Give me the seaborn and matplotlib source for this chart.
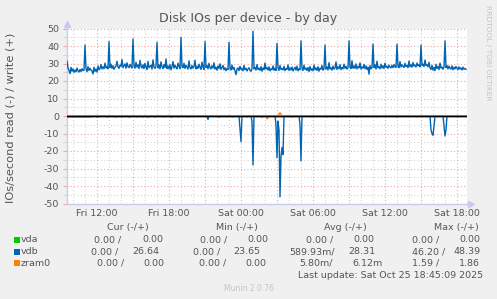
import numpy as np
import pandas as pd
import matplotlib
matplotlib.use("Agg")
import matplotlib.pyplot as plt
import matplotlib.dates as mdates
from matplotlib.ticker import FuncFormatter, MultipleLocator
from matplotlib.patches import Rectangle
import seaborn as sns

# ---------------- data ----------------
start_time = "2025-10-24 09:30"
step = "5min"
n_samples = 400

vdb_write = [
    31.4, 27.5, 26.0, 24.2, 27.8, 25.6, 26.9, 25.0, 26.3, 25.2, 27.4, 25.8, 25.1, 26.6, 25.4, 27.0, 25.9, 26.2, 40.6, 27.1, 25.3, 28.2, 26.0, 27.3,
    26.2, 25.8, 24.0, 27.9, 25.5, 26.8, 25.1, 28.6, 26.4, 27.2, 29.4, 26.9, 28.1, 27.0, 30.2, 27.4, 28.3, 26.9, 42.5, 27.7, 29.6, 27.2, 28.8, 26.7,
    27.9, 28.5, 31.3, 28.0, 27.2, 29.1, 28.4, 32.3, 27.6, 28.7, 29.8, 27.3, 30.4, 28.1, 27.6, 29.5, 28.2, 27.4, 44.0, 28.6, 27.3, 30.7, 27.9, 29.2,
    27.1, 31.8, 28.3, 27.4, 29.3, 27.0, 30.1, 28.0, 26.6, 31.2, 27.6, 28.3, 29.0, 26.8, 32.1, 27.9, 27.2, 28.7, 42.1, 27.4, 29.2, 26.9, 31.0, 28.1,
    27.0, 29.4, 27.8, 32.6, 27.1, 28.6, 26.9, 29.3, 26.4, 28.2, 31.1, 27.3, 29.0, 27.8, 26.9, 30.2, 28.4, 27.1, 45.0, 28.2, 27.6, 30.1, 27.2, 29.0,
    27.9, 26.8, 31.5, 27.6, 26.9, 28.8, 27.3, 28.1, 31.9, 26.9, 28.4, 27.1, 29.6, 27.8, 26.7, 30.8, 27.9, 26.6, 42.5, 27.8, 28.9, 26.9, 30.1, 27.6,
    26.9, 28.7, 27.4, 30.4, 26.8, 27.9, 26.2, 28.6, 27.1, 29.8, 26.6, 27.7, 28.9, 26.4, 27.6, 25.9, 27.2, 26.5, 42.1, 27.0, 26.3, 29.1, 26.7, 27.8,
    25.6, 23.65, 26.8, 27.5, 25.9, 28.4, 26.6, 27.1, 25.8, 28.9, 26.4, 27.3, 25.7, 26.9, 27.6, 26.1, 25.5, 27.2, 48.39, 26.9, 27.8, 26.2, 29.4, 26.6,
    27.3, 26.1, 28.2, 25.6, 27.4, 26.5, 30.3, 26.9, 27.7, 26.2, 28.1, 25.8, 27.0, 26.4, 28.6, 26.1, 27.3, 26.0, 41.5, 27.4, 26.1, 28.9, 26.5, 27.2,
    26.3, 28.4, 25.9, 27.1, 26.6, 29.2, 26.0, 27.5, 26.3, 28.0, 25.7, 26.8, 27.9, 26.2, 28.5, 25.8, 27.0, 26.4, 42.9, 27.3, 26.0, 29.0, 26.6, 27.4,
    26.0, 27.7, 25.4, 28.3, 26.1, 27.0, 25.8, 29.1, 26.4, 27.5, 26.0, 28.2, 25.6, 27.3, 26.7, 28.8, 26.2, 26.9, 40.6, 26.8, 28.0, 26.3, 30.5, 26.9,
    27.6, 26.2, 28.5, 26.8, 27.4, 30.9, 26.7, 28.1, 27.0, 29.3, 26.5, 27.8, 26.9, 29.6, 27.2, 28.4, 26.8, 27.5, 42.9, 28.0, 27.1, 31.6, 27.3, 28.6,
    27.2, 29.8, 26.9, 28.3, 27.5, 30.4, 26.8, 28.1, 27.3, 29.5, 27.0, 28.6, 26.6, 27.9, 23.9, 28.8, 26.9, 27.6, 41.1, 27.7, 29.2, 26.8, 31.3, 27.5,
    28.1, 27.0, 29.6, 27.4, 28.7, 27.1, 30.2, 27.8, 28.4, 27.2, 29.1, 28.0, 27.5, 28.9, 27.6, 29.4, 28.2, 27.7, 41.1, 28.3, 27.6, 31.1, 28.0, 29.3,
    28.4, 27.7, 30.1, 28.2, 29.0, 27.6, 31.4, 28.3, 29.2, 27.9, 30.6, 28.5, 29.1, 28.0, 30.3, 28.6, 29.4, 28.1, 40.6, 28.9, 29.6, 28.2, 32.0, 28.8,
    29.2, 28.1, 30.7, 27.4, 26.6, 28.9, 26.2, 27.8, 25.9, 29.5, 27.1, 28.3, 26.5, 30.2, 27.4, 28.0, 26.7, 27.9, 42.9, 27.6, 28.8, 26.9, 28.5, 27.3,
    26.8, 28.6, 26.4, 27.9, 26.9, 28.3, 27.2, 26.5, 28.1, 26.8, 27.5, 26.3, 27.9, 26.7, 27.2, 26.64,
]

# read rates (sample index -> value), zero elsewhere
vdb_read_idx = [0, 1, 2, 3, 4, 5, 6, 7, 8, 9, 10, 11, 12, 13, 14, 15, 16, 17, 18, 19, 20, 21, 22, 23, 24, 25,
                30, 31, 40, 41, 48, 49, 50, 55, 62, 63, 70, 71, 75, 76, 80, 81, 82, 88, 96, 97, 104, 105,
                112, 120, 121, 141, 152, 160, 166, 173, 174, 180, 185, 186, 195, 209, 210, 211, 212, 213, 214,
                215, 216, 225, 233, 234, 245, 270, 290, 310, 330, 350, 364, 365, 366, 367, 377, 378, 379, 390]
vdb_read_val = [0.4, 0.4, 0.4, 0.4, 0.4, 0.4, 0.4, 0.4, 0.4, 0.4, 0.4, 0.4, 0.4, 0.4, 0.4, 0.4, 0.4, 0.4, 0.4, 0.4, 0.4, 0.4, 0.4, 0.4, 0.4, 0.4,
                0.5, 0.5, 0.4, 0.4, 0.4, 0.4, 0.4, 0.5, 0.5, 0.5, 0.4, 0.4, 0.4, 0.4, 0.4, 0.4, 0.4, 0.5, 0.4, 0.4, 0.5, 0.5,
                0.4, 0.4, 0.4, 2.0, 0.6, 0.4, 0.5, 7.0, 14.7, 0.5, 3.0, 28.0, 0.6, 5.0, 23.8, 3.0, 8.0, 46.2, 23.0,
                18.0, 22.0, 0.5, 5.0, 25.7, 0.4, 0.4, 0.5, 0.4, 0.5, 0.4, 8.0, 10.0, 11.0, 6.0, 6.0, 11.4, 8.0, 0.4]
zram0_read_idx = [46, 76, 83, 111, 153, 174, 200, 201, 245, 258, 260, 301, 323, 360, 371, 393]
zram0_read_val = [0.5, 0.6, 0.4, 0.7, 0.5, 0.6, 1.59, 1.2, 0.5, 0.4, 0.6, 0.5, 0.4, 0.6, 0.5, 0.4]
zram0_write_idx = [212, 213, 214]
zram0_write_val = [1.0, 1.86, 0.9]

devices = ["vda", "vdb", "zram0"]
colors = ["#00CC00", "#0066B3", "#FF8000"]
cur_read = [0.0, 0.0, 0.0]
cur_write = [0.0, 26.64, 0.0]
min_read = [0.0, 0.0, 0.0]
min_write = [0.0, 23.65, 0.0]
avg_read = [0.0, 0.58993, 0.00580]
avg_write = [0.0, 28.31, 0.00612]
max_read = [0.0, 46.20, 1.59]
max_write = [0.0, 48.39, 1.86]

title = "Disk IOs per device - by day"
ylabel = "IOs/second read (-) / write (+)"
last_update = "Last update: Sat Oct 25 18:45:09 2025"
footer = "Munin 2.0.76"
side_text = "RRDTOOL / TOBI OETIKER"

# ---------------- build frames ----------------
times = pd.date_range(start_time, periods=n_samples, freq=step)


def sparse(idx, val):
    arr = np.zeros(n_samples)
    arr[np.array(idx, dtype=int)] = val
    return arr


series = {
    "vda": (np.zeros(n_samples), np.zeros(n_samples)),
    "vdb": (np.array(vdb_write), sparse(vdb_read_idx, vdb_read_val)),
    "zram0": (sparse(zram0_write_idx, zram0_write_val), sparse(zram0_read_idx, zram0_read_val)),
}

W, H = 497, 299
TXT = "#555555"
plt.rcParams["font.family"] = ["DejaVu Sans"]

fig = plt.figure(figsize=(W / 100, H / 100), dpi=100, facecolor="#F0F0F0")
ax = fig.add_axes([67 / W, 1 - 203.5 / H, 400 / W, 175 / H])
ax.set_facecolor("white")

for dev, col in zip(devices, colors):
    w, r = series[dev]
    df = pd.DataFrame({"time": times, "write": w, "read": -r})
    sns.lineplot(data=df, x="time", y="write", ax=ax, color=col, linewidth=1.0, zorder=3)
    sns.lineplot(data=df, x="time", y="read", ax=ax, color=col, linewidth=1.0, zorder=3)

ax.axhline(0, color="black", linewidth=1.0, zorder=6)

ax.set_xlim(times[0], times[0] + pd.Timedelta(minutes=5 * n_samples))
ax.set_ylim(-50, 50)
ax.set_xlabel("")
ax.set_ylabel("")

ax.yaxis.set_major_locator(MultipleLocator(10))
ax.yaxis.set_minor_locator(MultipleLocator(5))
ax.xaxis.set_major_locator(mdates.HourLocator(byhour=range(0, 24, 3)))
ax.xaxis.set_minor_locator(mdates.HourLocator())


def fmt_x(v, pos):
    d = mdates.num2date(v)
    return d.strftime("%a %H:%M") if d.hour % 6 == 0 else ""


ax.xaxis.set_major_formatter(FuncFormatter(fmt_x))
ax.yaxis.set_major_formatter(FuncFormatter(lambda v, p: f"{int(round(v))}"))

ax.grid(which="major", color="#F0A8A8", linestyle=(0, (1, 2)), linewidth=0.8, zorder=1)
ax.grid(which="minor", color="#D4D4D4", linestyle=(0, (1, 2)), linewidth=0.8, zorder=1)
ax.set_axisbelow(True)

ax.tick_params(axis="y", which="major", length=3, width=0.8, color="#F0A8A8", pad=2.5,
               labelsize=6.8, labelcolor=TXT)
ax.tick_params(axis="y", which="minor", length=3, width=0.8, color="#D4D4D4")
ax.tick_params(axis="x", which="both", length=0, pad=4, labelsize=6.8, labelcolor=TXT)

for s in ["top", "right"]:
    ax.spines[s].set_visible(False)
for s in ["left", "bottom"]:
    ax.spines[s].set_color("#CCCCEE")
    ax.spines[s].set_linewidth(1.0)

# axis arrows
ax.plot([0], [1 + 5 / 175], marker="^", markersize=4.5, color="#C8C8F0",
        transform=ax.transAxes, clip_on=False, zorder=7)
ax.plot([0, 0], [1, 1 + 5 / 175], color="#CCCCEE", lw=1.0,
        transform=ax.transAxes, clip_on=False)
ax.plot([1 + 4 / 400], [0], marker=">", markersize=4.5, color="#C8C8F0",
        transform=ax.transAxes, clip_on=False, zorder=7)
ax.plot([1, 1 + 4 / 400], [0, 0], color="#CCCCEE", lw=1.0,
        transform=ax.transAxes, clip_on=False)

# texts
def fx(px):
    return px / W


def fy(py):
    return 1 - py / H


fig.text(0.5, fy(18.5), title, ha="center", va="center", fontsize=9.1, color=TXT)
fig.text(fx(11), fy(118), ylabel, ha="center", va="center", rotation=90, fontsize=8.2, color=TXT)
fig.text(fx(488), fy(53), side_text, ha="center", va="center", rotation=270, fontsize=5.4, color="#C4C4C4")


def fmt(v):
    if v != 0 and abs(v) < 1:
        return f"{v * 1000:.2f}m"
    return f"{v:.2f}"


FS = 6.8
headers = ["Cur (-/+)", "Min (-/+)", "Avg (-/+)", "Max (-/+)"]
header_x = [107, 216, 324, 434]
for h, x in zip(headers, header_x):
    fig.text(fx(x), fy(227.5), h, ha="left", va="center", fontsize=FS, color=TXT)

row_y = [240, 251.7, 263.3]
# left x positions of each cell per row (read / write pairs for Cur, Min, Avg, Max)
cell_x = [
    [94, 142, 200, 247, 306, 353, 412, 459],
    [91, 132, 193, 233, 289, 348, 412, 453],
    [97, 143, 199, 245, 299, 352, 412, 459],
]
for i, dev in enumerate(devices):
    y = row_y[i]
    fig.patches.append(Rectangle((fx(14), fy(y + 3)), 6 / W, 6 / H, transform=fig.transFigure,
                                 facecolor=colors[i], edgecolor="none"))
    fig.text(fx(20.5), fy(y), dev, ha="left", va="center", fontsize=FS, color=TXT)
    pairs = [(cur_read[i], cur_write[i]), (min_read[i], min_write[i]),
             (avg_read[i], avg_write[i]), (max_read[i], max_write[i])]
    k = 0
    for rd, wr in pairs:
        rs = fmt(rd)
        rs = rs + "/" if rs.endswith("m") else rs + " /"
        fig.text(fx(cell_x[i][k]), fy(y), rs, ha="left", va="center", fontsize=FS, color=TXT)
        fig.text(fx(cell_x[i][k + 1]), fy(y), fmt(wr), ha="left", va="center", fontsize=FS, color=TXT)
        k += 2

fig.text(fx(483), fy(275), last_update, ha="right", va="center", fontsize=FS, color=TXT)
fig.text(0.5, fy(288.5), footer, ha="center", va="center", fontsize=5.5, color="#C4C4C4")

fig.savefig("out.png", dpi=100, facecolor=fig.get_facecolor())
